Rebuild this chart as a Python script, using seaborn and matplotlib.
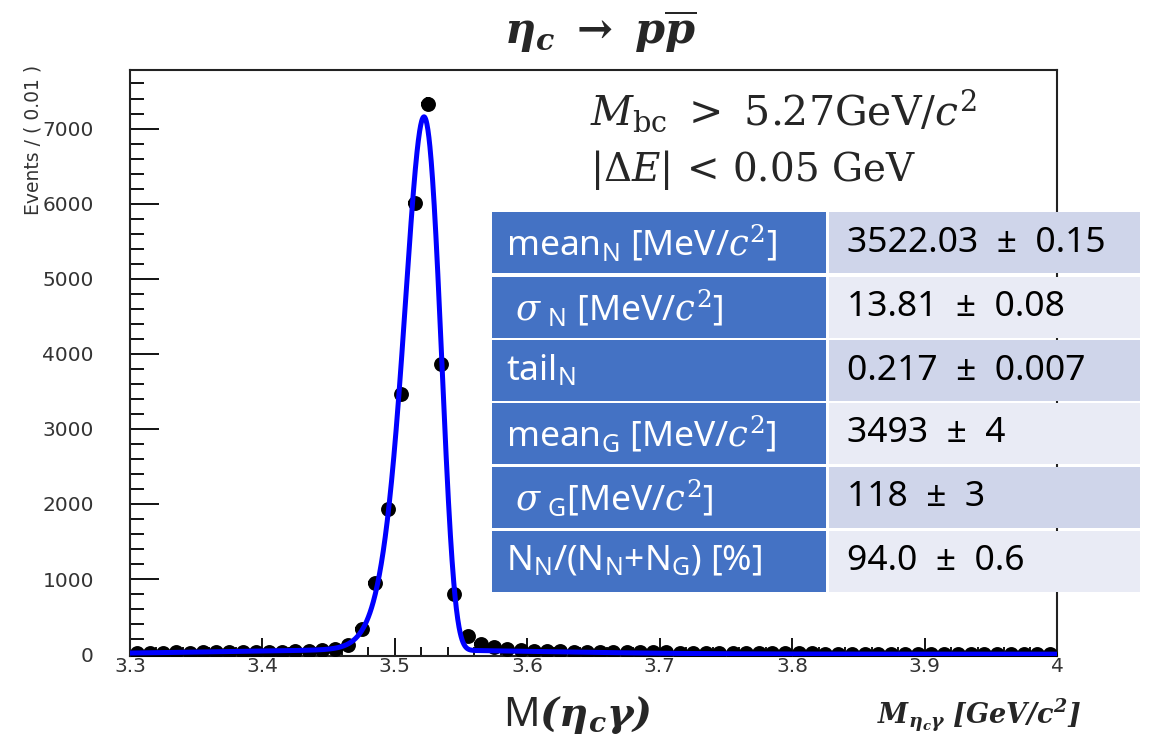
import numpy as np
import pandas as pd
import matplotlib
matplotlib.use("Agg")
import matplotlib.pyplot as plt
import seaborn as sns
from matplotlib.patches import Rectangle
from matplotlib.ticker import MultipleLocator

# ---------------- data ----------------
bin_low = 3.30
bin_width = 0.01
counts = [18, 20, 17, 22, 21, 25, 23, 28, 26, 31,
          30, 35, 38, 42, 50, 75, 125, 335, 950, 1930,
          3460, 6010, 7330, 3870, 800, 240, 140, 95, 70, 52,
          45, 40, 38, 35, 33, 30, 30, 27, 25, 24,
          22, 20, 18, 17, 15, 14, 13, 12, 11, 10,
          9, 9, 8, 7, 7, 6, 6, 5, 5, 4,
          4, 4, 3, 3, 3, 2, 2, 2, 2, 1]

# fit parameters (GeV)
mean_N = 3.52203
sigma_N = 0.01381
tail_N = 0.217
mean_G = 3.493
sigma_G = 0.118
frac_N = 0.940

table_labels = [r"mean$_{\mathsf{N}}$ [MeV/$c^2$]",
                r" $\sigma$$_{\mathsf{\ N}}$ [MeV/$c^2$]",
                r"tail$_{\mathsf{N}}$",
                r"mean$_{\mathsf{G}}$ [MeV/$c^2$]",
                r" $\sigma$$_{\mathsf{\ G}}$[MeV/$c^2$]",
                r"N$_{\mathsf{N}}$/(N$_{\mathsf{N}}$+N$_{\mathsf{G}}$) [%]"]
table_values = ["3522.03 ± 0.15", "13.81 ± 0.08", "0.217 ± 0.007",
                "3493 ± 4", "118 ± 3", "94.0 ± 0.6"]

# ---------------- style ----------------
sns.set_theme(style="white")
plt.rcParams["font.family"] = ["DejaVu Sans"]
plt.rcParams["mathtext.fontset"] = "custom"
plt.rcParams["mathtext.rm"] = "DejaVu Serif"
plt.rcParams["mathtext.it"] = "DejaVu Serif:italic"
plt.rcParams["mathtext.bf"] = "DejaVu Serif:bold:italic"
plt.rcParams["mathtext.sf"] = "Noto Sans"

n_bins = len(counts)
centers = bin_low + bin_width * (np.arange(n_bins) + 0.5)
df = pd.DataFrame({"x": centers, "y": counts})
df["yerr"] = np.sqrt(df["y"])

# fit curve from the fitted parameters
def novosibirsk(x, peak, width, tail):
    xi = 2.0 * np.sqrt(np.log(4.0))
    arg = 1.0 - (x - peak) * tail / width
    out = np.zeros_like(x)
    ok = arg > 1e-7
    w0 = (2.0 / xi) * np.arcsinh(tail * xi * 0.5)
    w02 = w0 * w0
    lg = np.log(arg[ok])
    out[ok] = np.exp(-0.5 / w02 * lg * lg - 0.5 * w02)
    return out

xs = np.linspace(bin_low, bin_low + n_bins * bin_width, 2801)
dx = xs[1] - xs[0]
nov = novosibirsk(xs, mean_N, sigma_N, tail_N)
gau = np.exp(-0.5 * ((xs - mean_G) / sigma_G) ** 2)
pdf = frac_N * nov / (nov.sum() * dx) + (1 - frac_N) * gau / (gau.sum() * dx)
curve = pd.DataFrame({"x": xs, "y": pdf * df["y"].sum() * bin_width})

# ---------------- figure ----------------
fig = plt.figure(figsize=(11.5, 7.39), dpi=100)
ax = fig.add_axes([0.1130, 0.1123, 0.8061, 0.7930])

ax.errorbar(df["x"], df["y"], xerr=bin_width / 2, yerr=df["yerr"], fmt="none",
            ecolor="black", elinewidth=3.2, capsize=0, zorder=3)
sns.scatterplot(data=df, x="x", y="y", ax=ax, color="black", s=115,
                marker="o", edgecolor="black", linewidth=0, zorder=4, legend=False)
sns.lineplot(data=curve, x="x", y="y", ax=ax, color="#0000ff", linewidth=3.6,
             zorder=5, legend=False)

ax.set_xlim(bin_low, bin_low + n_bins * bin_width)
ax.set_ylim(-25, 7780)
ax.set_xlabel("")
ax.set_ylabel("")
ax.xaxis.set_major_locator(MultipleLocator(0.1))
ax.xaxis.set_minor_locator(MultipleLocator(0.02))
ax.yaxis.set_major_locator(MultipleLocator(1000))
ax.yaxis.set_minor_locator(MultipleLocator(200))
ax.xaxis.set_major_formatter(matplotlib.ticker.FuncFormatter(lambda v, p: f"{v:g}"))
ax.tick_params(axis="both", which="both", direction="in", top=False, right=False,
               colors="black", labelcolor="#333333", labelsize=14.5, width=1.3)
ax.tick_params(axis="x", which="major", length=13, pad=1)
ax.tick_params(axis="x", which="minor", length=6.5)
ax.tick_params(axis="y", which="major", length=21, pad=26)
ax.tick_params(axis="y", which="minor", length=10)
ax.tick_params(axis="x", which="both", bottom=True)
ax.tick_params(axis="y", which="both", left=True)
for sp in ax.spines.values():
    sp.set_color("#222222")
    sp.set_linewidth(1.5)
    sp.set_visible(True)

fig.text(0.029, 0.912, "Events / ( 0.01 )", rotation=90, ha="center", va="top",
         fontsize=13.5, color="#333333")

# title and annotations
fig.text(0.522, 0.957, r"$\mathbf{\eta_c\ \rightarrow\ p\overline{p}}$", ha="center",
         va="center", fontsize=31)
fig.text(0.513, 0.850, r"$M_{\mathrm{bc}}\ >\ 5.27\mathrm{GeV}/c^2$", ha="left",
         va="center", fontsize=29.5)
fig.text(0.513, 0.770, r"$|\Delta E|\,<\,0.05\ \mathrm{GeV}$", ha="left",
         va="center", fontsize=28)
fig.text(0.437, 0.032, r"M$\mathbf{(\eta_c\gamma)}$", ha="left", va="center",
         fontsize=29, family="Noto Sans")
fig.text(0.9405, 0.032, r"$\mathbf{M_{\eta_c\gamma}\ [GeV/c^2]}$", ha="right",
         va="center", fontsize=19.5)

# parameter table
W, H = 1150.0, 739.0
row_tops = [212, 277, 340, 403, 467, 531]
row_h = 61
left_x0, left_x1 = 492, 826
right_x0, right_x1 = 829, 1140
right_colors = ["#cfd5ea", "#e9ebf5"]
for i, (lab, val) in enumerate(zip(table_labels, table_values)):
    top = row_tops[i]
    y0 = 1 - (top + row_h) / H
    fig.add_artist(Rectangle((left_x0 / W, y0), (left_x1 - left_x0) / W, row_h / H,
                             transform=fig.transFigure, facecolor="#4472c4",
                             edgecolor="none", zorder=10))
    fig.add_artist(Rectangle((right_x0 / W, y0), (right_x1 - right_x0) / W, row_h / H,
                             transform=fig.transFigure, facecolor=right_colors[i % 2],
                             edgecolor="none", zorder=10))
    yc = 1 - (top + row_h / 2) / H
    fig.text((left_x0 + 14) / W, yc, lab, ha="left", va="center", color="white",
             fontsize=25.5, family="Noto Sans", zorder=11)
    fig.text((right_x0 + 18) / W, yc, val.replace(" ± ", "  ±  "), ha="left",
             va="center", color="black", fontsize=25.5, family="Noto Sans", zorder=11)

fig.savefig("out.png", dpi=100, facecolor="white")
